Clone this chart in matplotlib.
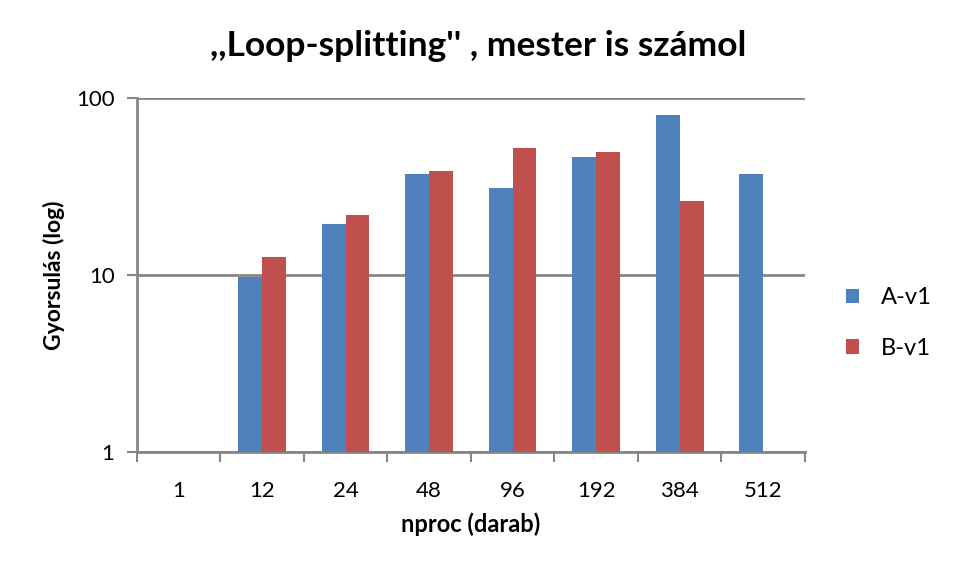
import numpy as np
import matplotlib.pyplot as plt

kategoriak = ['1', '12', '24', '48', '96', '192', '384', '512']
a_v1 = [np.nan, 9.7, 19.4, 37.2, 31.0, 46.4, 80.0, 37.2]
b_v1 = [np.nan, 12.6, 21.9, 38.7, 52.2, 49.5, 26.2, np.nan]

plt.rcParams['font.family'] = ['Lato', 'DejaVu Sans']
szurke = '#868686'

fig = plt.figure(figsize=(9.56, 5.73), dpi=100)
ax = fig.add_axes([0.143, 0.211, 0.699, 0.618])

x = np.arange(len(kategoriak))
w = 0.286
ax.bar(x - w / 2, a_v1, w, color='#4f81bd', label='A-v1', zorder=3)
ax.bar(x + w / 2, b_v1, w, color='#c0504d', label='B-v1', zorder=3)

ax.set_yscale('log')
ax.set_ylim(1, 100)
ax.set_xlim(-0.5, len(kategoriak) - 0.5)
ax.set_yticks([1, 10, 100])
ax.set_yticklabels(['1', '10', '100'])
ax.minorticks_off()
ax.yaxis.grid(True, color=szurke, linewidth=2, zorder=0)

ax.set_xticks(x)
ax.set_xticklabels(kategoriak)
ax.set_xticks(np.arange(len(kategoriak) + 1) - 0.5, minor=True)
ax.tick_params(axis='x', which='major', length=0, pad=21, labelsize=16)
ax.tick_params(axis='x', which='minor', length=7, width=1.5, color=szurke)
ax.tick_params(axis='y', which='major', length=7, width=1.5, color=szurke, labelsize=16, pad=9)

for s in ['top', 'right']:
    ax.spines[s].set_visible(False)
for s in ['left', 'bottom']:
    ax.spines[s].set_color(szurke)
    ax.spines[s].set_linewidth(2)

ax.set_xlabel('nproc (darab)', fontsize=17, fontweight='bold', labelpad=8)
ax.set_ylabel('Gyorsulás (log)', fontsize=16.5, fontweight='bold', labelpad=8)
fig.suptitle(",,Loop-splitting'' , mester is számol", fontsize=25.5, fontweight='bold', y=0.947)

fig.legend(loc='center left', bbox_to_anchor=(0.863, 0.436), frameon=False, fontsize=17,
           handlelength=0.55, handleheight=0.55, labelspacing=1.25, handletextpad=0.9)

fig.savefig('out.png', dpi=100)
